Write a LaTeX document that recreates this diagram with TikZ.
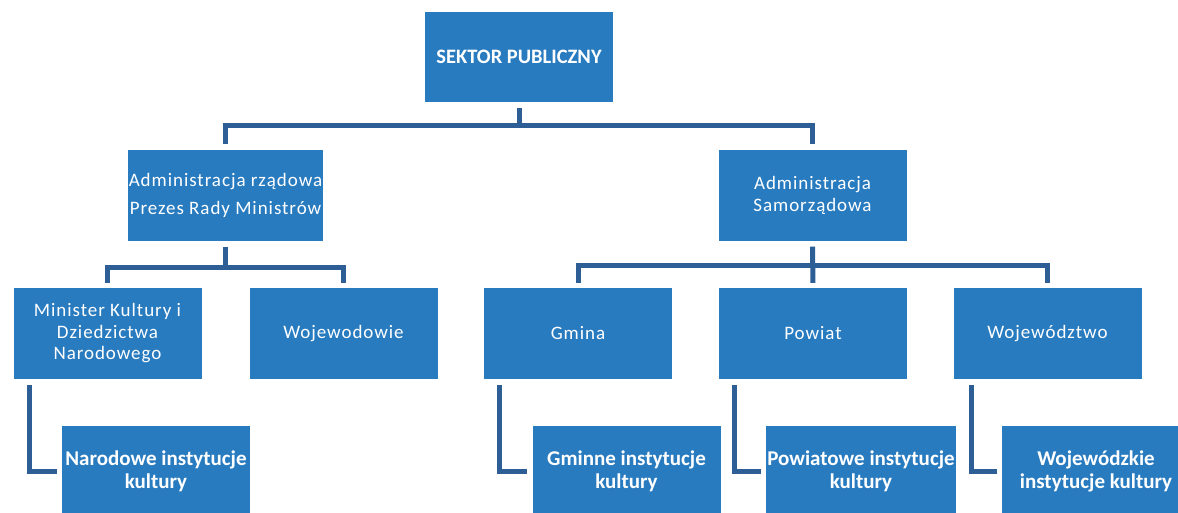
\documentclass[tikz,border=0pt]{standalone}
\usepackage{fontspec}
\setmainfont{Carlito}
\newfontfamily\spacedfont[LetterSpace=5]{Carlito}
\usepackage{tikz}
\definecolor{boxblue}{RGB}{41,123,192}
\definecolor{lineblue}{RGB}{45,94,150}

\begin{document}
\begin{tikzpicture}[x=1pt,y=-1pt,
    box/.style={fill=boxblue, text=white, minimum width=188pt, minimum height=91pt,
      inner sep=1pt, align=center, font=\fontsize{19}{22}\selectfont\spacedfont},
    boldbox/.style={box, font=\fontsize{21}{23}\selectfont\bfseries},
    link/.style={draw=lineblue, line width=5pt, shorten <=6pt, shorten >=5pt}]
  \useasboundingbox (0,0) rectangle (1178,512);
  \fill[white] (0,0) rectangle (1178,512);
  \clip (0,0) rectangle (1178,512);
  % poziom 1
  \node[boldbox, minimum height=90pt, font=\fontsize{20.5}{23}\selectfont\bfseries] (sektor) at (519,57) {SEKTOR PUBLICZNY};
  % poziom 2
  \node[box, font=\fontsize{19}{28}\selectfont\spacedfont] (rzad) at (225.5,195)
    {Administracja rządowa\\Prezes Rady Ministrów};
  \node[box] (samo) at (812.5,195) {Administracja\\Samorządowa};
  % poziom 3
  \node[box, font=\fontsize{19}{21.5}\selectfont\spacedfont] (minister) at (107.5,333.5)
    {Minister Kultury i\\Dziedzictwa\\Narodowego};
  \node[box] (wojewodowie) at (343.5,333.5) {Wojewodowie};
  \node[box] (gmina) at (578,333.5) {Gmina};
  \node[box] (powiat) at (813,333.5) {Powiat};
  \node[box] (wojewodztwo) at (1047.5,333.5) {Województwo};
  % instytucje
  \node[boldbox] (narodowe) at (156,471.5) {Narodowe instytucje\\kultury};
  \node[boldbox] (gminne) at (626.5,471.5) {Gminne instytucje\\kultury};
  \node[boldbox] (powiatowe) at (861,471.5) {Powiatowe instytucje\\kultury};
  \node[boldbox] (wojewodzkie) at (1096,471.5) {Wojewódzkie\\instytucje kultury};
  % polaczenia
  \draw[link] (sektor.south) -- ++(0,23) -| (rzad.north);
  \draw[link] (sektor.south) -- ++(0,23) -| (samo.north);
  \draw[link] (rzad.south) -- ++(0,26.5) -| (minister.north);
  \draw[link] (rzad.south) -- ++(0,26.5) -| (wojewodowie.north);
  \draw[link] (samo.south) -- ++(0,24.5) -| (gmina.north);
  \draw[link] (samo.south) -- ++(0,24.5) -| (wojewodztwo.north);
  \draw[link] (samo.south) -- (powiat.north);
  \draw[link] ([xshift=16pt]minister.south west) |- (narodowe.west);
  \draw[link] ([xshift=16pt]gmina.south west) |- (gminne.west);
  \draw[link] ([xshift=16pt]powiat.south west) |- (powiatowe.west);
  \draw[link] ([xshift=18pt]wojewodztwo.south west) |- (wojewodzkie.west);
\end{tikzpicture}
\end{document}
